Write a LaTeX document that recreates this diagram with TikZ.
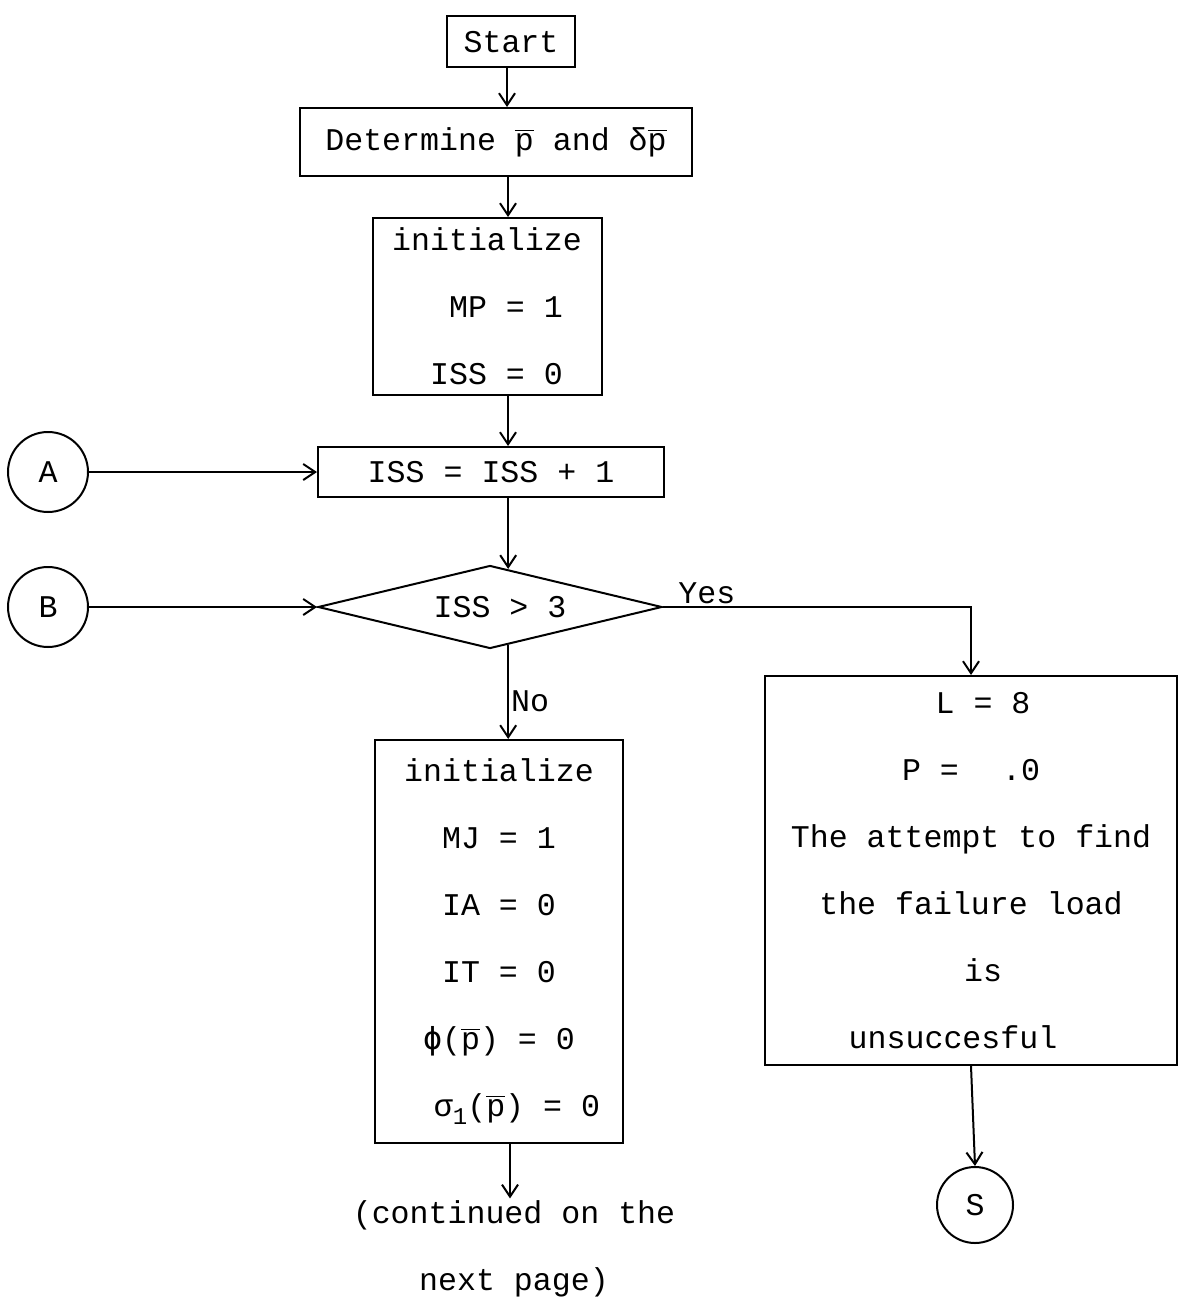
\documentclass[tikz,border=0pt]{standalone}
\usepackage{fontspec}
\setmainfont{Liberation Mono}
\newfontfamily\dvmono{DejaVu Sans Mono}
\usetikzlibrary{shapes.geometric,arrows.meta,calc}
\newcommand{\pbar}{$\overline{\mbox{p}}$}
\begin{document}
\begin{tikzpicture}[x=0.5pt,y=-0.5pt,
  every node/.style={font=\fontsize{15.8}{33.5}\selectfont},
  box/.style={draw,line width=1pt,rectangle,inner sep=0pt,align=center},
  conn/.style={draw,line width=1pt,circle,inner sep=0pt},
  dec/.style={draw,line width=1pt,diamond,aspect=4,inner sep=0pt},
  lbl/.style={inner sep=1pt},
  arr/.style={line width=1pt,-{Straight Barb[length=6pt,width=8pt,line width=1pt]}},
  ln/.style={line width=1pt}]
\useasboundingbox (0,0) rectangle (1183,1300);
\coordinate (c1) at (507,0);
\coordinate (c2) at (508,0);
\coordinate (c3) at (510,0);

\node[box,minimum width=64pt,minimum height=25.5pt] (start) at (511,42) {Start};
\node[box,minimum width=196pt,minimum height=34pt] (det) at (496,142) {Determine \pbar{} and δ\pbar};
\node[box,minimum width=114.5pt,minimum height=88.5pt] (init1) at (487,306.5) {initialize\\ \ \ MP = 1\\ \ ISS = 0};
\node[box,minimum width=173pt,minimum height=25pt] (iss) at (491,472) {ISS = ISS + 1};
\node[dec,minimum width=172pt,minimum height=41.5pt] (dia) at (490,607) {\hspace*{10pt}ISS > 3};
\node[conn,minimum size=40pt] (A) at (48,472) {A};
\node[conn,minimum size=40pt] (B) at (48,607) {B};
\node[box,minimum width=206pt,minimum height=194.5pt] (fail) at (971,870.5)
  {\hspace*{12pt}L = 8\\ P = \,\ .0\\ The attempt to find\\ the failure load\\ \hspace*{12pt}is\\ unsuccesful\hspace*{18pt}};
\node[box,minimum width=124pt,minimum height=201.5pt] (init2) at (499,941.5)
  {initialize\\ MJ = 1\\ IA = 0\\ IT = 0\\ {\dvmono ϕ}(\pbar) = 0\\ \hspace*{18pt}σ\raisebox{-0.45ex}{\fontsize{12}{12}\selectfont 1}(\pbar) = 0};
\node[conn,minimum size=38pt] (S) at (975,1205) {S};
\node[align=center,inner sep=0pt] (cont) at (514,1249) {(continued on the\\ next page)};

\coordinate (dtop) at ($(dia.north)!0.105!(dia.east)$);
\coordinate (dbot) at ($(dia.south)!0.105!(dia.east)$);

\draw[arr] (start.south -| c1) -- (det.north -| c1);
\draw[arr] (det.south -| c2) -- (init1.north -| c2);
\draw[arr] (init1.south -| c2) -- (iss.north -| c2);
\draw[arr] (iss.south -| dtop) -- (dtop);
\draw[arr] (A.east) -- (iss.west);
\draw[arr] (B.east) -- (dia.west);
\draw[arr] (dbot) -- node[lbl,right,pos=0.6] {No} (init2.north -| dbot);
\draw[arr] (dia.east) -| node[lbl,above right,pos=0.02] {Yes} (fail.north);
\draw[arr] (fail.south) -- (S.north);
\draw[arr] (init2.south -| c3) -- ([yshift=1pt]cont.north -| c3);
\end{tikzpicture}
\end{document}
